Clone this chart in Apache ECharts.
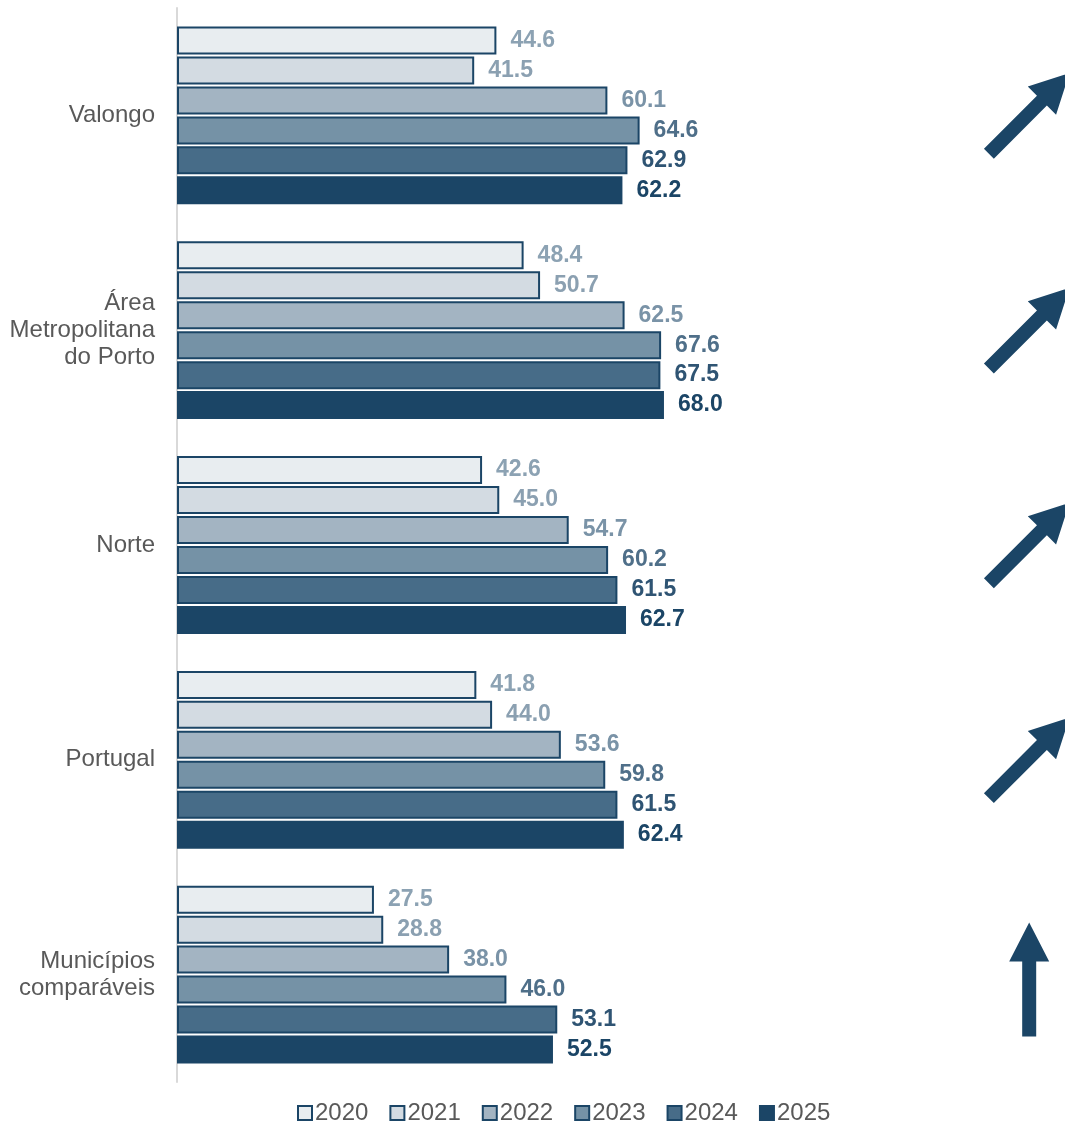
<!DOCTYPE html>
<html>
<head>
<meta charset="utf-8">
<script src="https://cdn.jsdelivr.net/npm/echarts@6/dist/echarts.min.js"></script>
<style>html,body{margin:0;padding:0;background:#fff}#c{width:1065px;height:1124px}</style>
</head>
<body>
<div id="c"></div>
<script>
const categories = ['Valongo', 'Área\nMetropolitana\ndo Porto', 'Norte', 'Portugal', 'Municípios\ncomparáveis'];
const years = ['2020', '2021', '2022', '2023', '2024', '2025'];
const v2020 = [44.6, 48.4, 42.6, 41.8, 27.5];
const v2021 = [41.5, 50.7, 45.0, 44.0, 28.8];
const v2022 = [60.1, 62.5, 54.7, 53.6, 38.0];
const v2023 = [64.6, 67.6, 60.2, 59.8, 46.0];
const v2024 = [62.9, 67.5, 61.5, 61.5, 53.1];
const v2025 = [62.2, 68.0, 62.7, 62.4, 52.5];
const trend = ['up-right', 'up-right', 'up-right', 'up-right', 'up'];
const arrowX = 119;

const values = [v2020, v2021, v2022, v2023, v2024, v2025];
const fills = ['#e8edf0', '#d3dbe2', '#a3b4c2', '#7592a6', '#476c88', '#1b4566'];
const labelColors = ['#8ca2b3', '#8ba0b1', '#7a93a7', '#4f6f89', '#2f5473', '#1b4566'];
const FONT = "'Liberation Sans', Arial, sans-serif";

const series = years.map((y, i) => ({
  name: y,
  type: 'bar',
  data: values[i],
  barWidth: 28,
  barGap: '7%',
  itemStyle: { color: fills[i], borderColor: '#1b4566', borderWidth: 2 },
  label: {
    show: true, position: 'right', distance: 14,
    color: labelColors[i], fontFamily: FONT, fontSize: 23, fontWeight: 'bold',
    formatter: p => p.value.toFixed(1)
  },
  emphasis: { disabled: true }
}));

const arrowPath = 'path://M20,0 L40,39 L27,39 L27,114 L13,114 L13,39 L0,39 Z';
series.push({
  type: 'scatter',
  data: categories.map((c, i) => ({
    value: [arrowX, c],
    symbolRotate: trend[i] === 'up' ? 0 : -45,
    symbolOffset: trend[i] === 'up' ? [0, 5] : [0, -2]
  })),
  symbol: arrowPath,
  symbolSize: [40, 114],
  itemStyle: { color: '#1b4566', opacity: 1 },
  clip: false,
  silent: true,
  emphasis: { disabled: true },
  z: 5
});

const chart = echarts.init(document.getElementById('c'), null, { renderer: 'canvas' });
chart.setOption({
  animation: false,
  backgroundColor: '#ffffff',
  grid: { left: 177, right: 0, top: 8, bottom: 42, containLabel: false },
  legend: {
    data: years,
    top: 1096,
    left: 292,
    itemWidth: 14, itemHeight: 14, itemGap: 21,
    icon: 'rect',
    textStyle: { color: '#595959', fontFamily: FONT, fontSize: 24, padding: [0, 0, 0, -2] },
    selectedMode: false
  },
  xAxis: {
    type: 'value', min: 0, max: 124,
    show: false, splitLine: { show: false }
  },
  yAxis: {
    type: 'category', data: categories, inverse: true,
    axisLine: { show: true, lineStyle: { color: '#d9d9d9', width: 2 } },
    axisTick: { show: false },
    axisLabel: { color: '#595959', fontFamily: FONT, fontSize: 24, margin: 22, lineHeight: 27, align: 'right' }
  },
  series: series
});
</script>
</body>
</html>
